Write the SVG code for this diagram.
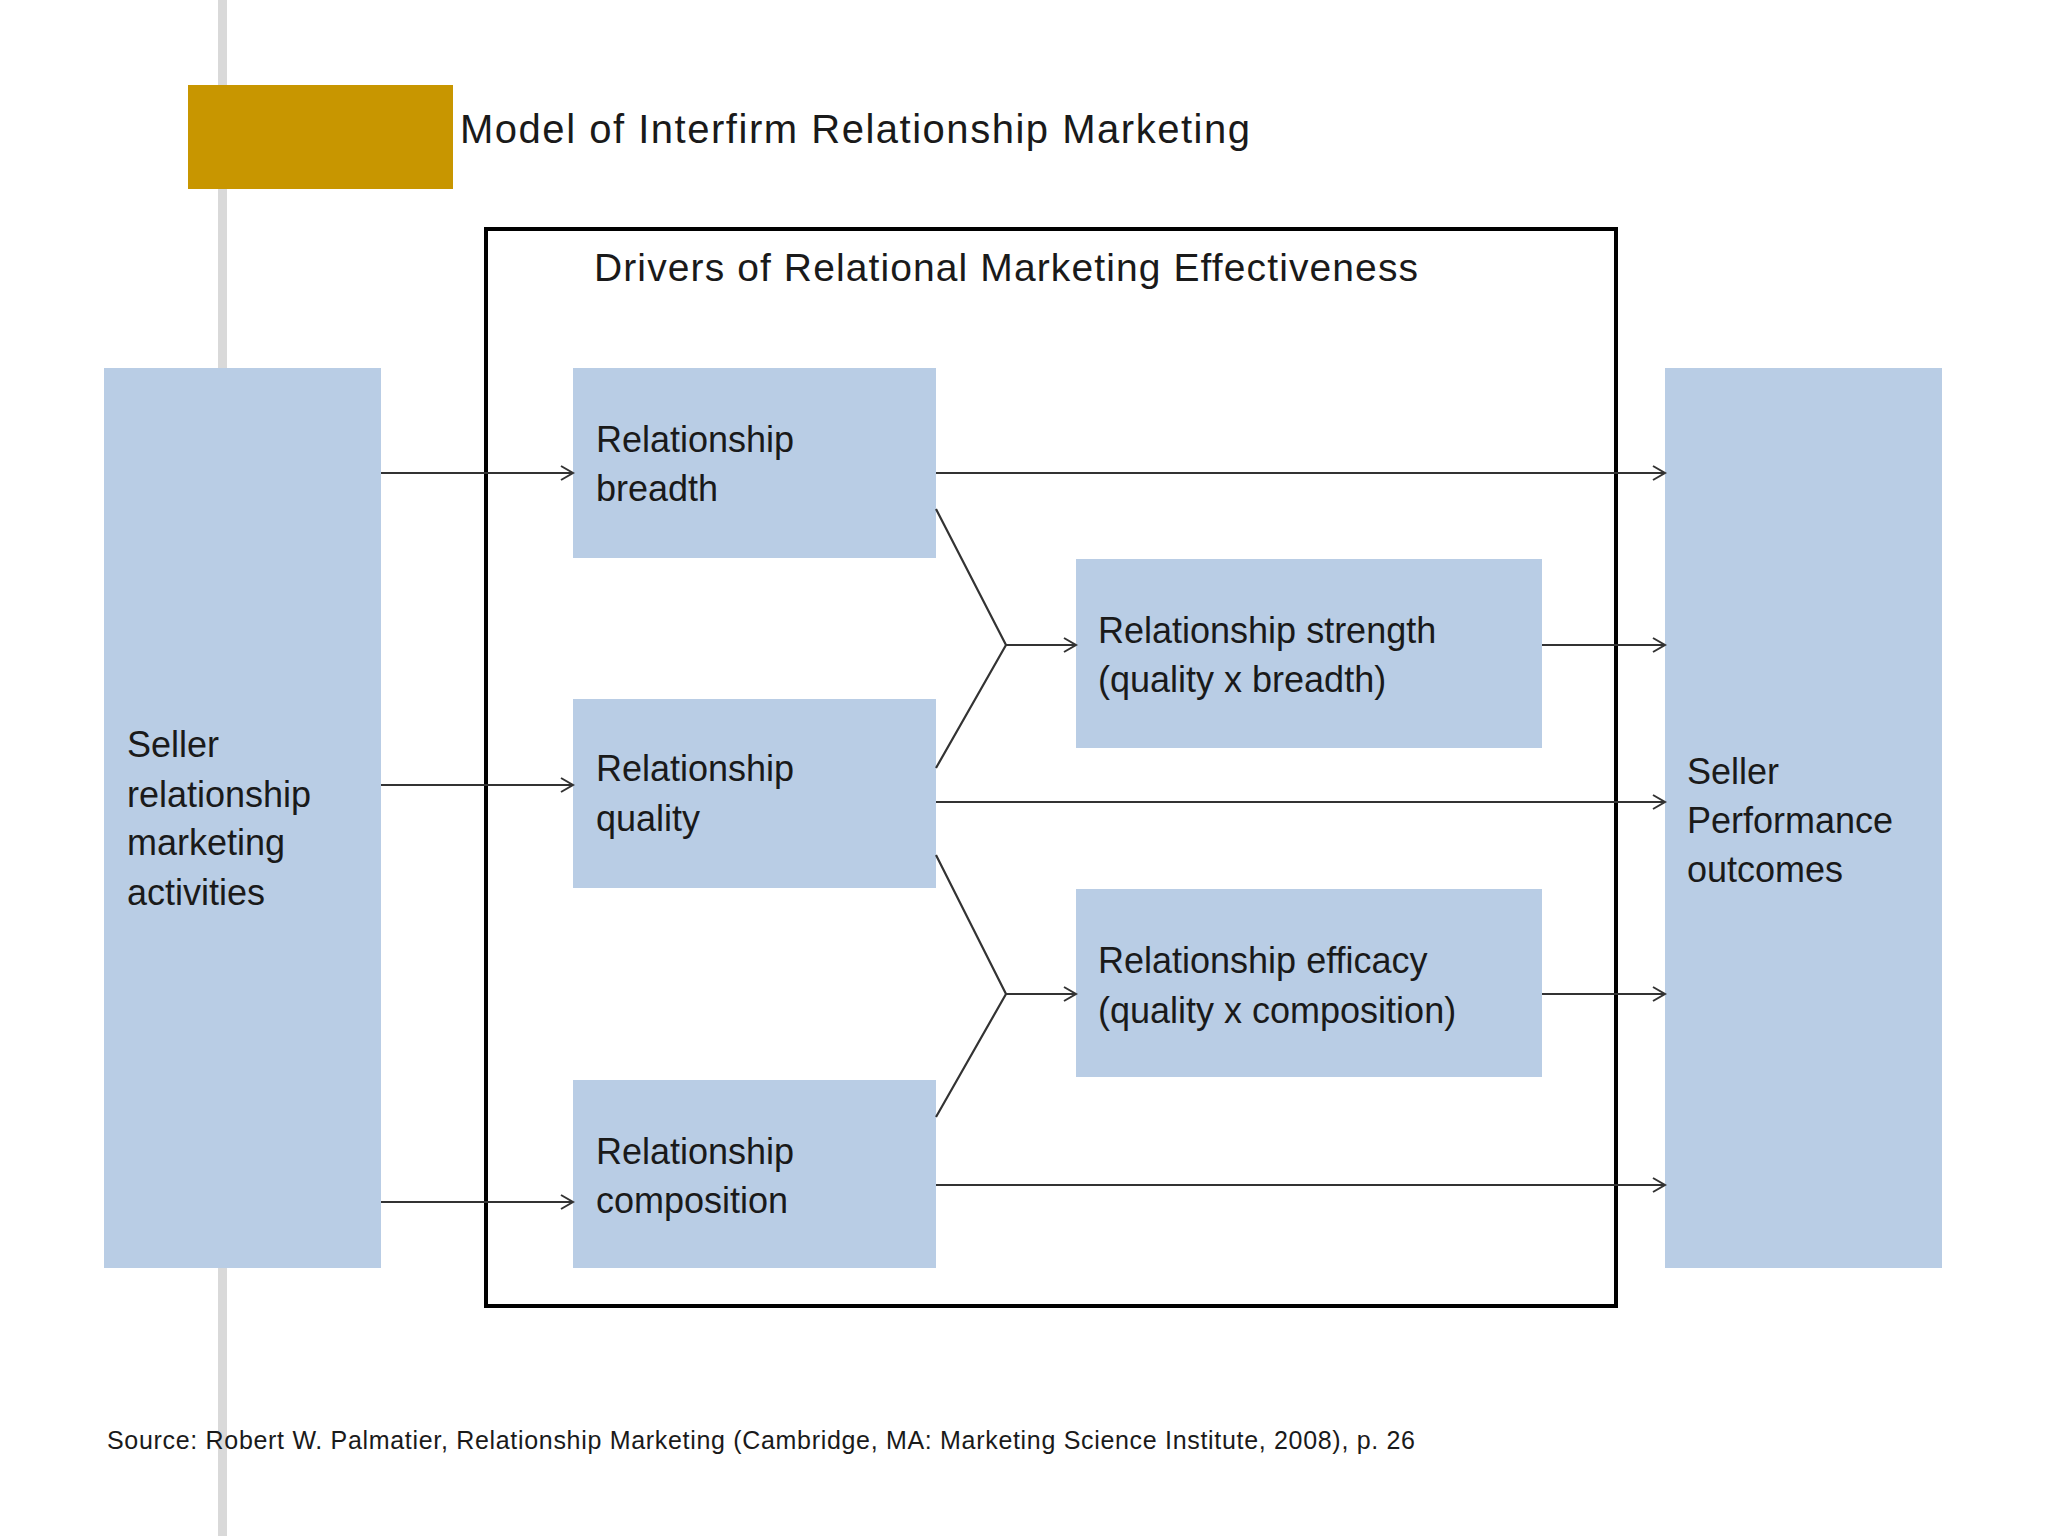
<svg xmlns="http://www.w3.org/2000/svg" width="2048" height="1536" viewBox="0 0 2048 1536">
<defs>
<marker id="ah" markerWidth="16" markerHeight="16" refX="14" refY="8" orient="auto" markerUnits="userSpaceOnUse">
<path d="M2,1 L14,8 L2,15" fill="none" stroke="#333" stroke-width="2"/>
</marker>
<style>
.box{fill:#B9CDE5}
.t{font-family:"Liberation Sans",Arial,sans-serif;fill:#1a1a1a}
.n{font-size:36px}
.c{stroke:#333;stroke-width:2.2;fill:none}
.a{stroke:#333;stroke-width:2.2;fill:none;marker-end:url(#ah)}
</style>
</defs>
<rect width="2048" height="1536" fill="#fff"/>
<rect x="218" y="0" width="9" height="1536" fill="#d9d9d9"/>
<rect x="188" y="85" width="265" height="104" fill="#C89600"/>
<text class="t" x="460" y="143" font-size="40" textLength="790" fill="#333">Model of Interfirm Relationship Marketing</text>
<rect x="486" y="229" width="1130" height="1077" fill="none" stroke="#000" stroke-width="4"/>
<text class="t" x="594" y="281" font-size="39" textLength="824">Drivers of Relational Marketing Effectiveness</text>
<g id="seller"><rect class="box" x="104" y="368" width="277" height="900"/>
<text class="t n" x="127" y="757">Seller</text><text class="t n" x="127" y="807">relationship</text><text class="t n" x="127" y="855">marketing</text><text class="t n" x="127" y="905">activities</text></g>
<g id="outcomes"><rect class="box" x="1665" y="368" width="277" height="900"/>
<text class="t n" x="1687" y="784">Seller</text><text class="t n" x="1687" y="833">Performance</text><text class="t n" x="1687" y="882">outcomes</text></g>
<g id="breadth"><rect class="box" x="573" y="368" width="363" height="190"/>
<text class="t n" x="596" y="452">Relationship</text><text class="t n" x="596" y="501">breadth</text></g>
<g id="quality"><rect class="box" x="573" y="699" width="363" height="189"/>
<text class="t n" x="596" y="781">Relationship</text><text class="t n" x="596" y="831">quality</text></g>
<g id="composition"><rect class="box" x="573" y="1080" width="363" height="188"/>
<text class="t n" x="596" y="1164">Relationship</text><text class="t n" x="596" y="1213">composition</text></g>
<g id="strength"><rect class="box" x="1076" y="559" width="466" height="189"/>
<text class="t n" x="1098" y="643">Relationship strength</text><text class="t n" x="1098" y="692">(quality x breadth)</text></g>
<g id="efficacy"><rect class="box" x="1076" y="889" width="466" height="188"/>
<text class="t n" x="1098" y="973">Relationship efficacy</text><text class="t n" x="1098" y="1023">(quality x composition)</text></g>
<g id="connectors">
<line class="a" x1="381" y1="473" x2="573" y2="473"/>
<line class="a" x1="381" y1="785" x2="573" y2="785"/>
<line class="a" x1="381" y1="1202" x2="573" y2="1202"/>
<line class="a" x1="936" y1="473" x2="1665" y2="473"/>
<line class="a" x1="936" y1="802" x2="1665" y2="802"/>
<line class="a" x1="936" y1="1185" x2="1665" y2="1185"/>
<line class="a" x1="1542" y1="645" x2="1665" y2="645"/>
<line class="a" x1="1542" y1="994" x2="1665" y2="994"/>
<polyline class="c" points="936,509 1006,645 936,768"/>
<line class="a" x1="1006" y1="645" x2="1076" y2="645"/>
<polyline class="c" points="936,855 1006,994 936,1117"/>
<line class="a" x1="1006" y1="994" x2="1076" y2="994"/>
</g>
<text class="t" x="107" y="1449" font-size="25" textLength="1308">Source: Robert W. Palmatier, Relationship Marketing (Cambridge, MA: Marketing Science Institute, 2008), p. 26</text>
</svg>
